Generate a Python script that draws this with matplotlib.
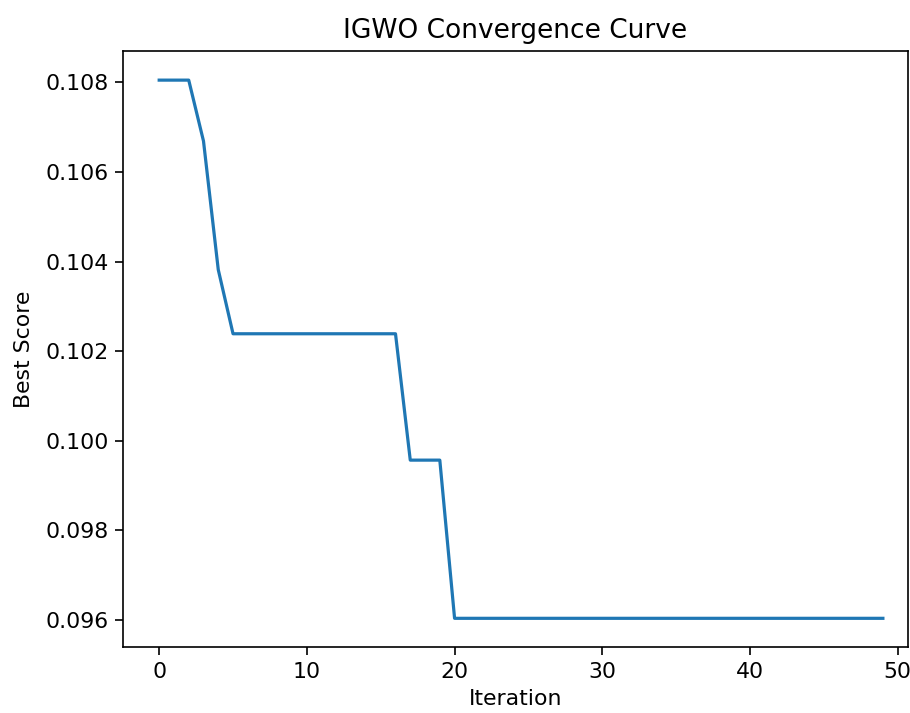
import matplotlib
matplotlib.use("Agg")
import matplotlib.pyplot as plt

iterations = list(range(50))
best_score = ([0.10805] * 3 + [0.10669, 0.10382] + [0.10239] * 12
              + [0.09957] * 3 + [0.09604] * 30)

fig = plt.figure(figsize=(9.1, 7.13), dpi=100)
ax = fig.add_axes([123 / 910, 1 - 647 / 713, (908 - 123) / 910, (647 - 51) / 713])
ax.plot(iterations, best_score, color="#1f77b4", linewidth=2.3)
ax.set_title("IGWO Convergence Curve", fontsize=19, pad=9)
ax.set_xlabel("Iteration", fontsize=15.8, labelpad=5)
ax.set_ylabel("Best Score", fontsize=15.8, labelpad=8)
ax.set_xticks([0, 10, 20, 30, 40, 50])
ax.set_yticks([0.096, 0.098, 0.100, 0.102, 0.104, 0.106, 0.108])
ax.tick_params(labelsize=15.8, length=5.5, width=1.2, pad=5)
for s in ax.spines.values():
    s.set_linewidth(1.2)
ax.set_xlim(-2.45, 50.7)
ax.set_ylim(0.0954, 0.1087)
fig.savefig("out.png", dpi=100)
